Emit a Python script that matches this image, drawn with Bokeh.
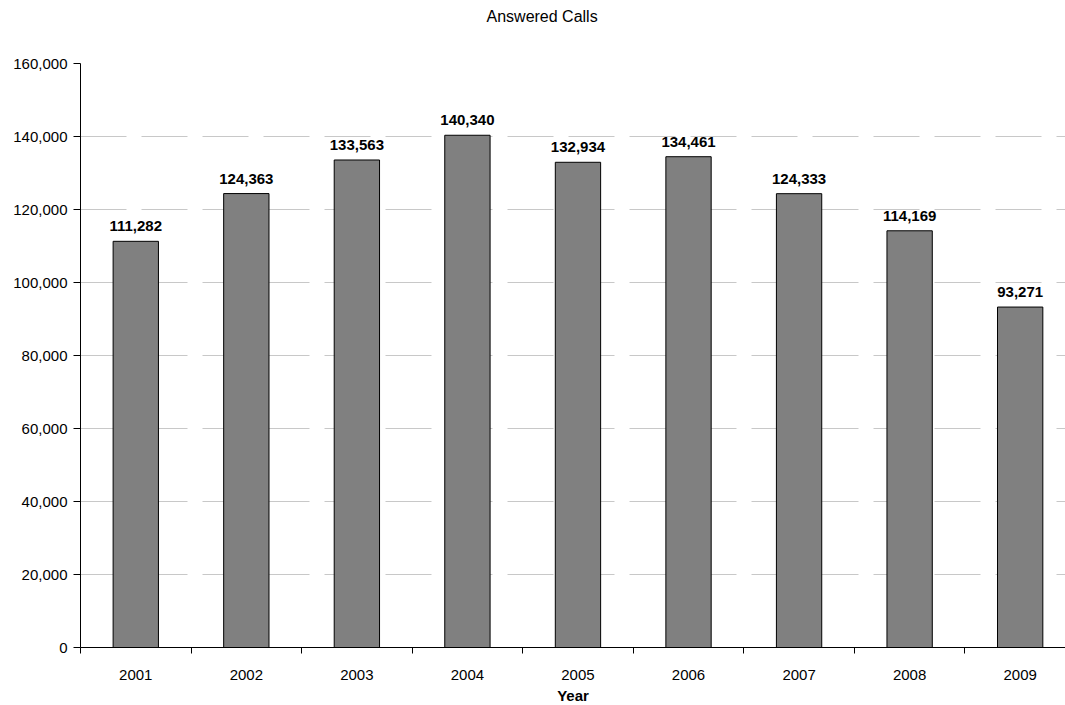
from bokeh.plotting import figure
from bokeh.models import ColumnDataSource, FixedTicker, NumeralTickFormatter, Range1d, Title
from bokeh.core.properties import value
from bokeh.embed import file_html
from bokeh.resources import INLINE

years = ["2001", "2002", "2003", "2004", "2005", "2006", "2007", "2008", "2009"]
answered = [111282, 124363, 133563, 140340, 132934, 134461, 124333, 114169, 93271]
y_ticks = [0, 20000, 40000, 60000, 80000, 100000, 120000, 140000, 160000]
title_text = "Answered Calls"
x_label_text = "Year"

FONT = "Liberation Sans"

xs = list(range(1, len(years) + 1))
src = ColumnDataSource(dict(
    x=xs, y=answered, label=[f"{v:,}" for v in answered]
))

p = figure(width=1065, height=705, output_backend="svg", toolbar_location=None,
           x_range=Range1d(0.5, 9.41), y_range=Range1d(0, 160000),
           min_border_left=80, min_border_right=0, min_border_top=0,
           min_border_bottom=0)
p.outline_line_color = None
p.background_fill_color = "white"
p.border_fill_color = "white"

# spacer between the frame and the chart title, then the title itself
p.add_layout(Title(text=" ", standoff=26, text_font=FONT, text_font_size="6px"), "above")
p.add_layout(Title(text=title_text, align="left", offset=406, standoff=10,
                   text_font=FONT, text_font_size="16px", text_font_style="normal",
                   text_color="#000000"), "above")

# x axis title as a title below the axis
p.add_layout(Title(text=x_label_text, align="center", standoff=4,
                   text_font=FONT, text_font_size="15px", text_font_style="bold",
                   text_color="#000000"), "below")

p.vbar(x="x", top="y", width=0.41, source=src, fill_color="#808080",
       line_color="#000000", line_width=1)
p.text(x="x", y="y", text="label", source=src, text_align="center",
       text_baseline="bottom", y_offset=-10, text_font=value(FONT),
       text_font_size="15px", text_font_style="bold", text_color="#000000")

# x axis
p.xaxis.ticker = FixedTicker(ticks=xs, minor_ticks=[i + 0.5 for i in range(0, len(years) + 1)])
p.xaxis.major_label_overrides = {x: y for x, y in zip(xs, years)}
p.xaxis.major_tick_out = 0
p.xaxis.major_tick_in = 0
p.xaxis.minor_tick_out = 6
p.xaxis.minor_tick_in = 0
p.xaxis.minor_tick_line_color = "#000000"
p.xaxis.axis_line_color = "#000000"
p.xaxis.major_label_standoff = 16
p.xaxis.major_label_text_font = FONT
p.xaxis.major_label_text_font_size = "15px"
p.xaxis.major_label_text_color = "#000000"

# y axis
p.yaxis.ticker = FixedTicker(ticks=y_ticks)
p.yaxis.formatter = NumeralTickFormatter(format="0,0")
p.yaxis.minor_tick_line_color = None
p.yaxis.major_tick_out = 7
p.yaxis.major_tick_in = 0
p.yaxis.major_tick_line_color = "#000000"
p.yaxis.axis_line_color = "#000000"
p.yaxis.major_label_standoff = 6
p.yaxis.major_label_text_font = FONT
p.yaxis.major_label_text_font_size = "15px"
p.yaxis.major_label_text_color = "#000000"

p.xgrid.grid_line_color = None
p.ygrid.grid_line_color = "#c8c8c8"
p.ygrid.grid_line_dash = "46 15"
p.ygrid.grid_line_width = 1

open("out.html", "w").write(file_html(p, INLINE))
